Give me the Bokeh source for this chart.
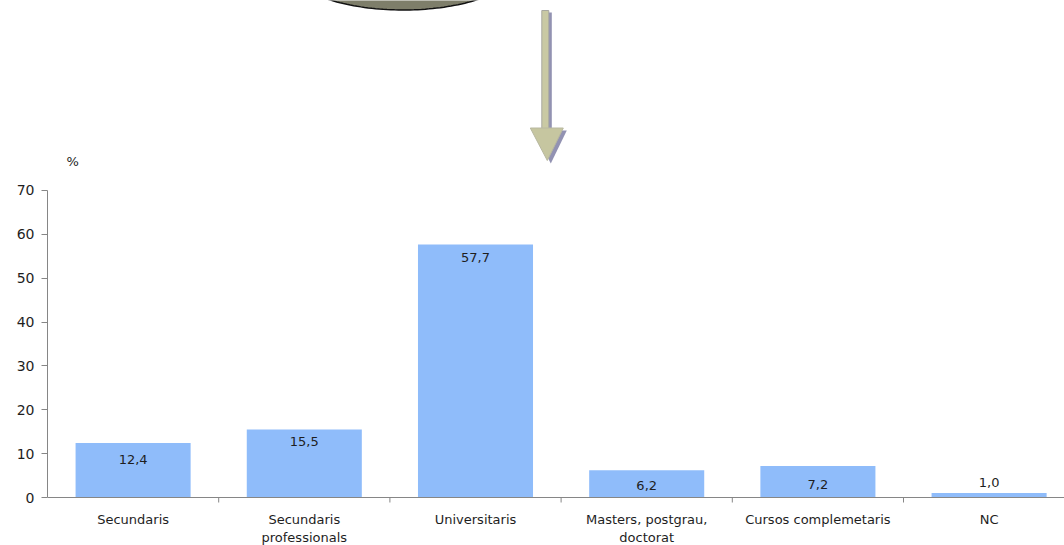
import numpy as np
from bokeh.plotting import figure
from bokeh.models import Range1d, FixedTicker
from bokeh.core.properties import value
from bokeh.embed import file_html
from bokeh.resources import INLINE

# ---- data ----
categories = ["Secundaris", "Secundaris\nprofessionals", "Universitaris",
              "Masters, postgrau,\ndoctorat", "Cursos complemetaris", "NC"]
values = [12.4, 15.5, 57.7, 6.2, 7.2, 1.0]
value_labels = ["12,4", "15,5", "57,7", "6,2", "7,2", "1,0"]
y_ticks = [0, 10, 20, 30, 40, 50, 60, 70]

# ---- style ----
label_dy = [16, 12, 13, 15, 19, -11]   # px below bar top (negative = above)
BAR = "#8FBCFA"
AXIS = "#868686"
TXT = "#1e1e1e"
FONT = value("DejaVu Sans")

W, H = 1064, 545
LEFT = 47
PX_X = 171.2          # px per category
PX_Y = 4.386          # px per percent
BASE = 497            # px row of the zero line

x_end = (W - LEFT) / PX_X
y_top = BASE / PX_Y
y_bot = (BASE - H) / PX_Y

p = figure(width=W, height=H, output_backend="svg", toolbar_location=None,
           x_range=Range1d(0, x_end), y_range=Range1d(y_bot, y_top),
           x_axis_location=None, min_border=0, min_border_left=LEFT)
p.outline_line_color = None
p.grid.visible = False
p.background_fill_color = "white"
p.border_fill_color = "white"

n = len(categories)
xc = [i + 0.5 for i in range(n)]

# bars
p.vbar(x=xc, top=values, bottom=0, width=0.672, fill_color=BAR, line_color=None)

# value labels
p.text(x=xc, y=values, text=value_labels, y_offset=label_dy,
       text_align="center", text_baseline="middle", text_font=FONT,
       text_font_size="13px", text_color=TXT)

# x baseline & boundary ticks
p.segment(x0=[0], y0=[0], x1=[x_end], y1=[0], line_color=AXIS, line_width=1)
bx = list(range(1, n))
p.segment(x0=bx, y0=[0] * len(bx), x1=bx, y1=[-5 / PX_Y] * len(bx),
          line_color=AXIS, line_width=1)

# category labels (split on line breaks)
line1 = [c.split("\n")[0] for c in categories]
line2 = [c.split("\n")[1] if "\n" in c else "" for c in categories]
p.text(x=xc, y=[0] * n, text=line1, y_offset=22, text_align="center",
       text_baseline="middle", text_font=FONT, text_font_size="13px", text_color=TXT)
p.text(x=xc, y=[0] * n, text=line2, y_offset=40, text_align="center",
       text_baseline="middle", text_font=FONT, text_font_size="13px", text_color=TXT)

# y axis
ya = p.yaxis[0]
ya.ticker = FixedTicker(ticks=y_ticks)
ya.bounds = (0, 70)
ya.axis_line_color = AXIS
ya.major_tick_line_color = AXIS
ya.major_tick_out = 6
ya.major_tick_in = 0
ya.minor_tick_line_color = None
ya.major_label_standoff = 7
ya.major_label_text_font = "DejaVu Sans"
ya.major_label_text_font_size = "14px"
ya.major_label_text_color = TXT

# pixel -> data helpers for decorations
def dx(px):
    return (px - 46.7) / PX_X

def dy(py):
    return (BASE - py) / PX_Y

# "%" unit label
p.text(x=[dx(72)], y=[dy(161)], text=["%"], text_align="center",
       text_baseline="middle", text_font=FONT, text_font_size="13px", text_color=TXT)

# decorative ellipse (callout bubble, cut by the top edge)
t = np.linspace(0, 2 * np.pi, 200)
ex = 402.5 + 122 * np.cos(t)
ey = -40.5 + 50 * np.sin(t)
p.patch([dx(v) for v in ex], [dy(v) for v in ey], fill_color="#7E7E6A",
        line_color="#111111", line_width=1.5)

# decorative arrow (shadow then body)
def poly(pts):
    return [dx(a) for a, b in pts], [dy(b) for a, b in pts]

sx, sy = poly([(545, 12), (551, 12), (551, 131), (545, 131)])
p.patch(sx, sy, fill_color="#9292B2", line_color=None)
sx, sy = poly([(533, 130), (566, 130), (550, 163)])
p.patch(sx, sy, fill_color="#9292B2", line_color=None)
sx, sy = poly([(541, 10), (548, 10), (548, 129), (541, 129)])
p.patch(sx, sy, fill_color="#C9C9A3", line_color="#A8A8A0", line_width=1)
sx, sy = poly([(529.5, 127.5), (562.5, 127.5), (546.5, 160)])
p.patch(sx, sy, fill_color="#C6C6A0", line_color="#B8B8A0", line_width=1)

open("out.html", "w").write(file_html(p, INLINE))
